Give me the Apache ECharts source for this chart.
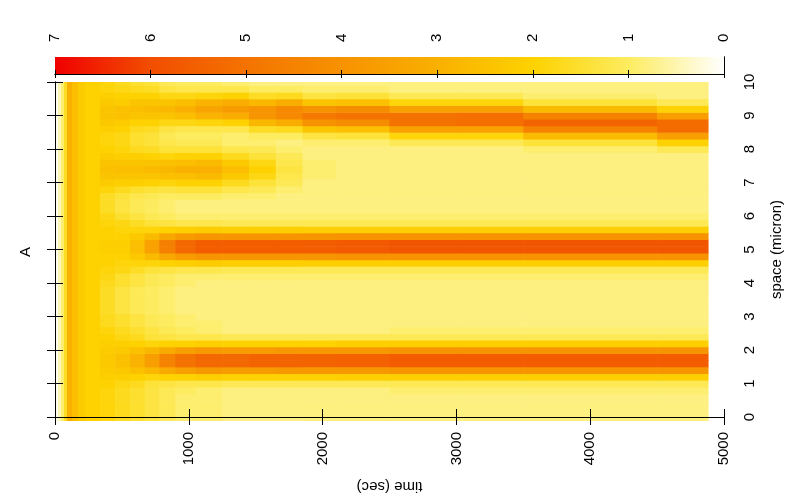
<!DOCTYPE html>
<html>
<head>
<meta charset="utf-8">
<title>A</title>
<script src="https://cdn.jsdelivr.net/npm/echarts@6.0.0/dist/echarts.min.js"></script>
<style>
  html, body { margin: 0; padding: 0; background: #fff; }
  #chart { width: 801px; height: 500px; }
</style>
</head>
<body>
<div id="chart"></div>
<script>
// 颜色刻度 0..7（白 -> 黄 -> 橙 -> 红）
const palette = ['#ffffff', '#fdec60', '#fdd200', '#f9b000', '#f79200', '#f47300', '#f24e00', '#f00000'];
const colorbarRange = [0, 7];

// 早期：空间上均匀的时间列（边界, 秒）及其数值
const earlyTimes = [0, 22, 45, 67, 90, 127, 172, 224, 336];
const earlyLevels = [0.1, 0.45, 0.9, 1.6, 3.0, 2.6, 2.2, 2.0];

// 空间网格 (micron)，每行 0.2
const spaceRows = [0, 0.2, 0.4, 0.6, 0.8, 1.0, 1.2, 1.4, 1.6, 1.8, 2.0, 2.2, 2.4, 2.6, 2.8, 3.0, 3.2, 3.4, 3.6, 3.8,
  4.0, 4.2, 4.4, 4.6, 4.8, 5.0, 5.2, 5.4, 5.6, 5.8, 6.0, 6.2, 6.4, 6.6, 6.8, 7.0, 7.2, 7.4, 7.6, 7.8,
  8.0, 8.2, 8.4, 8.6, 8.8, 9.0, 9.2, 9.4, 9.6, 9.8, 10.0];

// 之后：每个时间列一条空间剖面（从 0 到 10 micron）
const profileTimes = [336, 450, 560, 670, 780, 900, 1050, 1250, 1450, 1650, 1850, 2100, 2500, 3000, 3500, 4500, 4880];
const profiles = [
  [1.9,1.9,1.9,1.9,1.9, 2.0,2.1,2.2,2.3,2.3, 2.2,2.1,2.0,1.9,1.7, 1.7,1.6,1.6,1.6,1.6, 1.7,1.8,1.9,2.0,2.0, 2.1,2.1,2.0,2.0,1.9, 1.8,1.6,1.6,1.6,1.9, 2.2,2.4,2.5,2.4,2.2, 2.0,1.9,1.9,2.1,2.3, 2.4,2.4,2.3,2.1,1.9, 1.9],
  [1.7,1.7,1.7,1.7,1.7, 1.8,2.1,2.3,2.5,2.5, 2.3,2.1,1.8,1.7,1.5, 1.5,1.3,1.3,1.3,1.3, 1.5,1.5,1.8,1.9,2.0, 2.1,2.1,2.0,1.9,1.8, 1.5,1.3,1.3,1.4,1.7, 2.1,2.4,2.6,2.4,2.1, 1.9,1.8,1.8,2.0,2.2, 2.5,2.5,2.2,2.0,1.8, 1.7],
  [1.5,1.5,1.5,1.5,1.5, 1.7,2.0,2.5,2.9,2.9, 2.5,2.0,1.7,1.5,1.3, 1.3,1.1,1.1,1.1,1.1, 1.3,1.3,1.6,1.9,2.3, 2.6,2.6,2.3,1.9,1.6, 1.3,1.1,1.1,1.2,1.5, 2.1,2.4,2.6,2.4,2.1, 1.7,1.5,1.5,1.7,2.0, 2.4,2.6,2.4,2.0,1.7, 1.5],
  [1.3,1.3,1.3,1.3,1.3, 1.4,1.9,2.8,3.6,3.6, 2.8,1.9,1.4,1.3,1.1, 1.1,1.0,1.0,1.0,1.0, 1.1,1.1,1.4,1.9,2.7, 3.5,3.5,2.7,1.9,1.4, 1.1,1.0,1.0,1.1,1.4, 2.0,2.4,2.7,2.4,2.0, 1.6,1.4,1.4,1.6,2.0, 2.4,2.7,2.4,2.0,1.6, 1.4],
  [1.1,1.1,1.1,1.1,1.1, 1.3,2.0,3.2,4.5,4.5, 3.2,2.0,1.3,1.1,1.0, 1.0,0.9,0.9,0.9,0.9, 1.0,1.0,1.3,2.0,3.3, 4.6,4.6,3.3,2.0,1.3, 1.0,0.9,0.9,1.0,1.3, 1.9,2.5,2.8,2.5,1.9, 1.4,1.2,1.1,1.3,1.8, 2.4,2.8,2.4,1.8,1.3, 1.1],
  [0.9,0.9,0.9,0.9,1.0, 1.2,2.0,3.6,5.0,5.0, 3.6,2.0,1.2,1.0,0.9, 0.9,0.8,0.8,0.8,0.8, 0.9,0.9,1.2,2.1,3.7, 5.3,5.3,3.7,2.1,1.2, 0.9,0.8,0.8,1.0,1.4, 2.0,2.6,3.0,2.6,2.0, 1.4,1.1,1.0,1.2,1.8, 2.6,3.0,2.6,1.8,1.2, 1.0],
  [0.9,0.9,0.9,0.9,0.9, 1.2,2.1,3.8,5.3,5.3, 3.8,2.1,1.2,0.9,0.9, 0.8,0.8,0.8,0.8,0.8, 0.8,0.9,1.2,2.2,3.9, 5.6,5.6,3.9,2.2,1.2, 0.9,0.8,0.8,1.0,1.4, 2.0,2.7,3.0,2.7,2.0, 1.4,1.1,1.0,1.2,1.9, 2.9,3.4,2.9,1.9,1.2, 1.0],
  [0.8,0.8,0.8,0.8,0.8, 1.1,2.0,3.7,5.3,5.3, 3.7,2.0,1.1,0.8,0.8, 0.8,0.8,0.8,0.8,0.8, 0.8,0.9,1.1,2.1,3.9, 5.6,5.6,3.9,2.1,1.1, 0.9,0.8,0.8,0.9,1.2, 1.7,2.3,2.6,2.3,1.7, 1.2,0.9,0.9,1.2,2.0, 3.1,3.7,3.1,2.0,1.2, 0.9],
  [0.8,0.8,0.8,0.8,0.8, 1.1,2.0,3.7,5.4,5.4, 3.7,2.0,1.1,0.8,0.8, 0.8,0.8,0.8,0.8,0.8, 0.8,0.9,1.1,2.1,3.9, 5.6,5.6,3.9,2.1,1.1, 0.9,0.8,0.8,0.9,1.1, 1.4,1.8,2.0,1.8,1.4, 1.1,0.9,1.0,1.6,2.8, 3.9,3.9,2.8,1.6,1.0, 0.8],
  [0.8,0.8,0.8,0.8,0.8, 1.1,2.0,3.8,5.4,5.4, 3.8,2.0,1.1,0.8,0.8, 0.8,0.8,0.8,0.8,0.8, 0.8,0.9,1.1,2.1,3.9, 5.6,5.6,3.9,2.1,1.1, 0.9,0.8,0.8,0.8,0.9, 1.1,1.2,1.3,1.2,1.1, 0.9,0.8,1.0,1.7,3.1, 4.3,4.3,3.1,1.7,1.0, 0.8],
  [0.8,0.8,0.8,0.8,0.8, 1.1,2.0,3.8,5.4,5.4, 3.8,2.0,1.1,0.8,0.8, 0.8,0.8,0.8,0.8,0.8, 0.8,0.9,1.1,2.1,3.9, 5.6,5.6,3.9,2.1,1.1, 0.9,0.8,0.8,0.8,0.8, 0.8,0.9,0.9,0.9,0.8, 0.8,0.9,1.3,2.4,4.0, 4.8,4.0,2.4,1.3,0.9, 0.8],
  [0.8,0.8,0.8,0.8,0.8, 1.1,2.1,3.8,5.5,5.5, 3.8,2.1,1.1,0.8,0.8, 0.8,0.8,0.8,0.8,0.8, 0.8,0.9,1.1,2.1,4.0, 5.7,5.7,4.0,2.1,1.1, 0.9,0.8,0.8,0.8,0.8, 0.8,0.8,0.8,0.8,0.8, 0.8,0.9,1.4,2.5,4.2, 5.0,4.2,2.5,1.4,0.9, 0.8],
  [0.8,0.8,0.8,0.8,0.9, 1.1,2.1,3.9,5.6,5.6, 3.9,2.1,1.1,0.9,0.8, 0.8,0.8,0.8,0.8,0.8, 0.8,0.9,1.1,2.1,4.0, 5.8,5.8,4.0,2.1,1.1, 0.9,0.8,0.8,0.8,0.8, 0.8,0.8,0.8,0.8,0.8, 0.8,1.1,1.9,3.5,5.0, 5.0,3.5,1.9,1.1,0.8, 0.8],
  [0.8,0.8,0.8,0.8,0.9, 1.1,2.1,3.9,5.6,5.6, 3.9,2.1,1.1,0.9,0.8, 0.8,0.8,0.8,0.8,0.8, 0.8,0.9,1.1,2.1,4.0, 5.8,5.8,4.0,2.1,1.1, 0.9,0.8,0.8,0.8,0.8, 0.8,0.8,0.8,0.8,0.8, 0.8,1.1,1.9,3.5,5.1, 5.1,3.5,1.9,1.1,0.8, 0.8],
  [0.8,0.8,0.8,0.8,0.9, 1.1,2.1,3.9,5.6,5.6, 3.9,2.1,1.1,0.9,0.8, 0.8,0.8,0.8,0.8,0.8, 0.8,0.9,1.1,2.1,4.0, 5.8,5.8,4.0,2.1,1.1, 0.9,0.8,0.8,0.8,0.8, 0.8,0.8,0.8,0.8,0.8, 0.9,1.4,2.7,4.5,5.4, 4.5,2.7,1.4,0.9,0.8, 0.8],
  [0.8,0.8,0.8,0.8,0.9, 1.1,2.1,3.9,5.6,5.6, 3.9,2.1,1.1,0.9,0.8, 0.8,0.8,0.8,0.8,0.8, 0.8,0.9,1.1,2.1,4.0, 5.8,5.8,4.0,2.1,1.1, 0.9,0.8,0.8,0.8,0.8, 0.8,0.8,0.8,0.8,0.8, 1.1,2.0,3.6,5.2,5.2, 3.6,2.0,1.1,0.8,0.8, 0.8]
];

// 坐标轴刻度
const timeTicks = { min: 0, max: 5000, interval: 1000 };
const spaceTicks = { min: 0, max: 10, interval: 1 };

// 组装单元格：[t0, t1, s0, s1, value]
const rowHalf = 0.1;
const cells = [];
earlyLevels.forEach((v, k) => {
    cells.push([earlyTimes[k], earlyTimes[k + 1], spaceRows[0] - rowHalf, spaceRows[spaceRows.length - 1], v]);
});
profiles.forEach((col, k) => {
    col.forEach((v, i) => {
        cells.push([profileTimes[k], profileTimes[k + 1], spaceRows[i] - rowHalf, spaceRows[i] + rowHalf, v]);
    });
});

const font = 'Liberation Sans';
const black = '#000';
const plain = (v) => String(v); // 不要千分位

const chart = echarts.init(document.getElementById('chart'), null, { renderer: 'canvas' });

const option = {
    animation: false,
    backgroundColor: '#fff',
    textStyle: { fontFamily: font, color: black },
    grid: [
        { left: 55, right: 77, top: 82, bottom: 83, show: false },
        { left: 55, right: 77, top: 57, height: 17, show: false }
    ],
    visualMap: {
        type: 'continuous',
        show: false,
        min: colorbarRange[0],
        max: colorbarRange[1],
        dimension: 4,
        seriesIndex: 0,
        inRange: { color: palette }
    },
    xAxis: [
        {
            gridIndex: 0, type: 'value', position: 'bottom',
            min: timeTicks.min, max: timeTicks.max, interval: timeTicks.interval, z: 10,
            axisLine: { show: true, lineStyle: { color: black, width: 1 } },
            axisTick: { show: true, inside: true, length: 8, lineStyle: { color: black } },
            axisLabel: { rotate: 90, margin: 15, fontSize: 15, color: black, fontFamily: font, formatter: plain },
            splitLine: { show: false },
            name: 'time (sec)', nameLocation: 'middle', nameRotate: 180, nameGap: 62,
            nameTextStyle: { fontSize: 15, color: black, fontFamily: font }
        },
        {
            gridIndex: 0, type: 'value', position: 'top',
            min: timeTicks.min, max: timeTicks.max, interval: timeTicks.interval, z: 10,
            axisLine: { show: true, lineStyle: { color: black, width: 1 } },
            axisTick: { show: true, inside: true, length: 8, lineStyle: { color: black } },
            axisLabel: { show: false },
            splitLine: { show: false }
        },
        {
            gridIndex: 1, type: 'value', position: 'top', inverse: true,
            min: colorbarRange[0], max: colorbarRange[1], interval: 1, z: 10,
            axisLine: { show: true, lineStyle: { color: black, width: 1 } },
            axisTick: { show: true, inside: true, length: 4, lineStyle: { color: black } },
            axisLabel: { rotate: 90, margin: 15, fontSize: 15, color: black, fontFamily: font, formatter: plain },
            splitLine: { show: false }
        },
        {
            gridIndex: 1, type: 'value', position: 'bottom', inverse: true,
            min: colorbarRange[0], max: colorbarRange[1], interval: 1, z: 10,
            axisLine: { show: true, lineStyle: { color: black, width: 1 } },
            axisTick: { show: true, inside: true, length: 4, lineStyle: { color: black } },
            axisLabel: { show: false },
            splitLine: { show: false }
        }
    ],
    yAxis: [
        {
            gridIndex: 0, type: 'value', position: 'right',
            min: spaceTicks.min, max: spaceTicks.max, interval: spaceTicks.interval, z: 10,
            axisLine: { show: true, lineStyle: { color: black, width: 1 } },
            axisTick: { show: true, inside: true, length: 8, lineStyle: { color: black } },
            axisLabel: { rotate: 90, margin: 18, fontSize: 15, color: black, fontFamily: font, formatter: plain },
            splitLine: { show: false },
            name: 'space (micron)', nameLocation: 'middle', nameRotate: 90, nameGap: 45,
            nameTextStyle: { fontSize: 15, color: black, fontFamily: font }
        },
        {
            gridIndex: 0, type: 'value', position: 'left',
            min: spaceTicks.min, max: spaceTicks.max, interval: spaceTicks.interval, z: 10,
            axisLine: { show: true, lineStyle: { color: black, width: 1 } },
            axisTick: { show: true, inside: true, length: 8, lineStyle: { color: black } },
            axisLabel: { show: false },
            splitLine: { show: false }
        },
        {
            gridIndex: 1, type: 'value', position: 'left', min: 0, max: 1, z: 10,
            axisLine: { show: true, lineStyle: { color: black, width: 1 } },
            axisTick: { show: false }, axisLabel: { show: false }, splitLine: { show: false }
        },
        {
            gridIndex: 1, type: 'value', position: 'right', min: 0, max: 1, z: 10,
            axisLine: { show: true, lineStyle: { color: black, width: 1 } },
            axisTick: { show: false }, axisLabel: { show: false }, splitLine: { show: false }
        }
    ],
    graphic: [
        {
            type: 'text', x: 26, y: 252, rotation: Math.PI / 2, z: 10,
            style: { text: 'A', fontSize: 15, fontFamily: font, fill: black, align: 'center', verticalAlign: 'middle' }
        }
    ],
    series: [
        {
            type: 'custom',
            xAxisIndex: 0,
            yAxisIndex: 0,
            clip: false,
            z: 2,
            data: cells,
            encode: { x: [0, 1], y: [2, 3] },
            renderItem: function (params, api) {
                const top = Math.min(api.value(3), spaceTicks.max);
                const p0 = api.coord([api.value(0), top]);
                const p1 = api.coord([api.value(1), api.value(2)]);
                return {
                    type: 'rect',
                    shape: { x: p0[0], y: p0[1], width: p1[0] - p0[0] + 0.6, height: p1[1] - p0[1] + 0.6 },
                    style: { fill: api.visual('color') }
                };
            }
        },
        {
            type: 'custom',
            xAxisIndex: 2,
            yAxisIndex: 2,
            z: 2,
            data: [colorbarRange],
            renderItem: function (params, api) {
                const p0 = api.coord([api.value(1), 1]);
                const p1 = api.coord([api.value(0), 0]);
                const n = palette.length - 1;
                const stops = palette.map((c, k) => ({ offset: k / n, color: palette[n - k] }));
                return {
                    type: 'rect',
                    shape: { x: p0[0], y: p0[1], width: p1[0] - p0[0], height: p1[1] - p0[1] },
                    style: { fill: new echarts.graphic.LinearGradient(0, 0, 1, 0, stops) }
                };
            }
        }
    ]
};

chart.setOption(option, true);
</script>
</body>
</html>
